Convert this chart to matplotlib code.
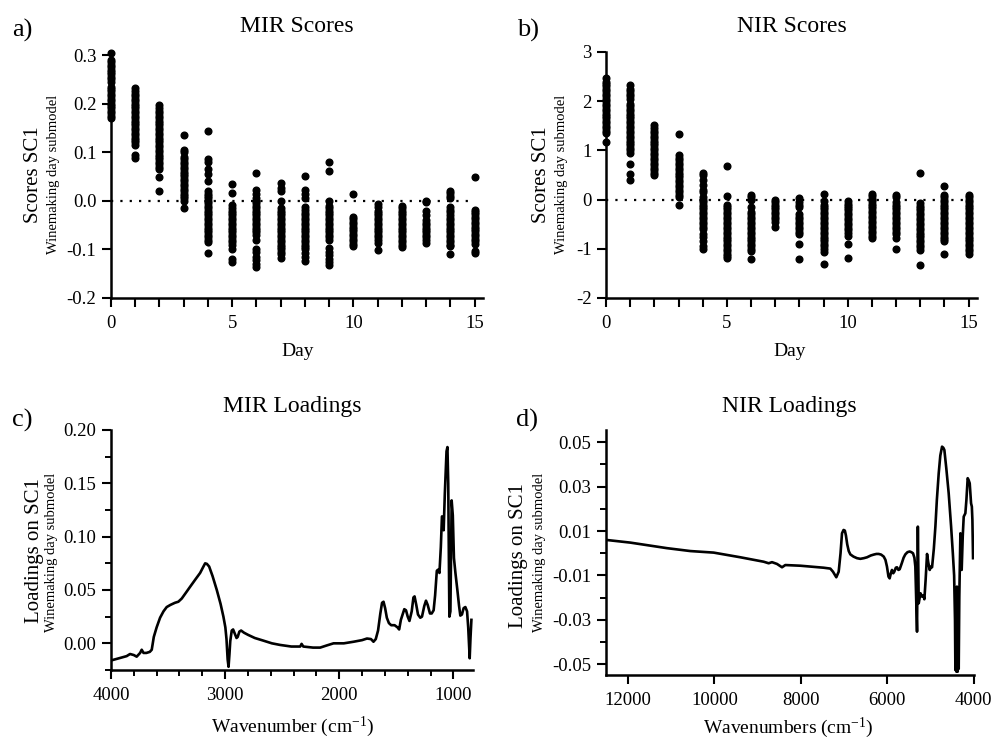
import numpy as np
import matplotlib
matplotlib.use('Agg')
import matplotlib.pyplot as plt
from matplotlib.ticker import MultipleLocator, FormatStrFormatter

# serif font like the paper (Times look-alike)
plt.rcParams['font.family'] = ['Liberation Serif', 'DejaVu Serif']
plt.rcParams['mathtext.fontset'] = 'custom'
plt.rcParams['mathtext.rm'] = 'Liberation Serif'
plt.rcParams['mathtext.it'] = 'Liberation Serif:italic'
plt.rcParams['axes.unicode_minus'] = False

# ---- scores data, one list per winemaking day ----
days = list(range(16))

mir_scores = [
    [0.305, 0.29, 0.285, 0.28, 0.275, 0.27, 0.265, 0.26, 0.255, 0.25, 0.245, 0.235, 0.23,
     0.225, 0.22, 0.215, 0.21, 0.205, 0.2, 0.195, 0.19, 0.185, 0.18, 0.175, 0.17],
    [0.232, 0.225, 0.22, 0.215, 0.21, 0.205, 0.2, 0.195, 0.19, 0.185, 0.18, 0.175, 0.17,
     0.165, 0.16, 0.155, 0.15, 0.145, 0.14, 0.135, 0.13, 0.125, 0.12, 0.115, 0.095, 0.088],
    [0.197, 0.19, 0.185, 0.18, 0.175, 0.17, 0.165, 0.16, 0.155, 0.15, 0.145, 0.14, 0.135,
     0.13, 0.125, 0.12, 0.115, 0.11, 0.105, 0.1, 0.095, 0.09, 0.085, 0.08, 0.075, 0.07,
     0.065, 0.048, 0.02],
    [0.135, 0.105, 0.1, 0.09, 0.085, 0.08, 0.075, 0.07, 0.065, 0.06, 0.055, 0.05, 0.045,
     0.04, 0.035, 0.03, 0.025, 0.02, 0.015, 0.01, 0.005, 0.0, -0.014],
    [0.144, 0.085, 0.08, 0.065, 0.055, 0.04, 0.02, 0.015, 0.01, 0.005, 0.0, -0.005, -0.01,
     -0.015, -0.02, -0.025, -0.03, -0.035, -0.04, -0.045, -0.05, -0.055, -0.06, -0.065,
     -0.07, -0.075, -0.08, -0.085, -0.107],
    [0.035, 0.017, -0.008, -0.015, -0.02, -0.025, -0.03, -0.035, -0.04, -0.045, -0.05,
     -0.055, -0.06, -0.065, -0.07, -0.075, -0.08, -0.085, -0.09, -0.1, -0.12, -0.126],
    [0.058, 0.022, 0.015, 0.005, 0.0, -0.005, -0.01, -0.015, -0.02, -0.025, -0.03, -0.035,
     -0.04, -0.045, -0.05, -0.055, -0.06, -0.065, -0.07, -0.08, -0.1, -0.106, -0.115,
     -0.122, -0.13, -0.137],
    [0.036, 0.027, 0.02, 0.0, -0.015, -0.02, -0.025, -0.03, -0.035, -0.04, -0.045, -0.05,
     -0.055, -0.06, -0.065, -0.07, -0.075, -0.08, -0.085, -0.09, -0.095, -0.1, -0.105,
     -0.11, -0.117],
    [0.051, 0.022, 0.015, 0.005, -0.012, -0.018, -0.025, -0.03, -0.035, -0.04, -0.045,
     -0.05, -0.055, -0.06, -0.065, -0.07, -0.075, -0.08, -0.085, -0.09, -0.095, -0.1,
     -0.107, -0.115, -0.123],
    [0.079, 0.061, 0.0, -0.011, -0.015, -0.02, -0.025, -0.03, -0.035, -0.04, -0.045, -0.05,
     -0.055, -0.06, -0.065, -0.07, -0.075, -0.08, -0.097, -0.105, -0.112, -0.12, -0.126,
     -0.132],
    [0.013, -0.033, -0.038, -0.043, -0.048, -0.053, -0.058, -0.063, -0.068, -0.073, -0.078,
     -0.083, -0.088, -0.094],
    [-0.006, -0.013, -0.02, -0.025, -0.03, -0.035, -0.04, -0.045, -0.05, -0.055, -0.06,
     -0.065, -0.07, -0.075, -0.08, -0.087, -0.101],
    [-0.01, -0.015, -0.02, -0.025, -0.03, -0.035, -0.04, -0.045, -0.05, -0.055, -0.06,
     -0.065, -0.07, -0.075, -0.08, -0.085, -0.09, -0.096],
    [0.0, -0.002, -0.022, -0.03, -0.04, -0.045, -0.05, -0.055, -0.06, -0.065, -0.07, -0.075,
     -0.08, -0.087],
    [0.021, 0.016, 0.01, 0.005, -0.012, -0.018, -0.024, -0.03, -0.035, -0.04, -0.045, -0.05,
     -0.055, -0.06, -0.065, -0.07, -0.075, -0.08, -0.085, -0.09, -0.094, -0.11],
    [0.048, -0.018, -0.023, -0.028, -0.033, -0.038, -0.043, -0.048, -0.053, -0.058, -0.063,
     -0.068, -0.073, -0.078, -0.083, -0.089, -0.104, -0.108],
]

nir_scores = [
    [2.48, 2.4, 2.35, 2.3, 2.25, 2.2, 2.15, 2.1, 2.05, 2.0, 1.95, 1.9, 1.85, 1.8, 1.75, 1.7,
     1.65, 1.6, 1.55, 1.5, 1.45, 1.4, 1.35, 1.18],
    [2.32, 2.25, 2.2, 2.15, 2.1, 2.05, 1.95, 1.9, 1.85, 1.8, 1.75, 1.7, 1.65, 1.6, 1.55, 1.5,
     1.45, 1.4, 1.35, 1.3, 1.25, 1.2, 1.15, 1.1, 1.05, 1.0, 0.95, 0.72, 0.52, 0.4],
    [1.52, 1.45, 1.4, 1.35, 1.3, 1.25, 1.2, 1.15, 1.1, 1.05, 1.0, 0.95, 0.9, 0.85, 0.8, 0.75,
     0.7, 0.65, 0.6, 0.55, 0.5],
    [1.33, 0.9, 0.85, 0.8, 0.75, 0.7, 0.65, 0.6, 0.55, 0.5, 0.45, 0.4, 0.35, 0.3, 0.25, 0.2,
     0.15, 0.1, 0.05, -0.1],
    [0.55, 0.5, 0.4, 0.3, 0.2, 0.15, 0.05, 0.0, -0.05, -0.1, -0.15, -0.2, -0.25, -0.3, -0.35,
     -0.4, -0.45, -0.5, -0.55, -0.6, -0.7, -0.75, -0.85, -0.95, -1.0],
    [0.68, 0.075, -0.1, -0.15, -0.2, -0.25, -0.3, -0.35, -0.4, -0.45, -0.5, -0.55, -0.6, -0.65,
     -0.7, -0.75, -0.8, -0.85, -0.9, -0.95, -1.0, -1.05, -1.1, -1.15, -1.18],
    [0.1, 0.05, 0.0, -0.15, -0.25, -0.3, -0.35, -0.4, -0.45, -0.5, -0.55, -0.6, -0.65, -0.7,
     -0.75, -0.8, -0.85, -0.9, -0.95, -1.0, -1.05, -1.2],
    [0.0, -0.05, -0.1, -0.15, -0.2, -0.25, -0.3, -0.35, -0.4, -0.45, -0.55],
    [0.03, -0.05, -0.1, -0.15, -0.3, -0.35, -0.4, -0.45, -0.5, -0.55, -0.6, -0.65, -0.7,
     -0.9, -1.2],
    [0.12, -0.03, -0.1, -0.15, -0.2, -0.25, -0.3, -0.35, -0.4, -0.45, -0.5, -0.55, -0.6,
     -0.65, -0.7, -0.75, -0.8, -0.85, -0.9, -0.95, -1.0, -1.06, -1.3],
    [-0.02, -0.08, -0.12, -0.18, -0.22, -0.28, -0.32, -0.38, -0.42, -0.48, -0.52, -0.58,
     -0.62, -0.68, -0.74, -0.9, -1.18],
    [0.12, 0.07, 0.02, -0.03, -0.08, -0.13, -0.18, -0.23, -0.28, -0.33, -0.38, -0.43, -0.48,
     -0.53, -0.58, -0.63, -0.68, -0.73, -0.78],
    [0.1, 0.05, -0.05, -0.1, -0.15, -0.2, -0.25, -0.3, -0.35, -0.4, -0.45, -0.5, -0.55, -0.6,
     -0.65, -0.7, -0.78, -1.0],
    [0.54, -0.07, -0.12, -0.17, -0.22, -0.27, -0.32, -0.37, -0.42, -0.47, -0.52, -0.57,
     -0.62, -0.67, -0.72, -0.77, -0.82, -0.87, -0.92, -0.97, -1.02, -1.32],
    [0.28, 0.1, 0.05, 0.0, -0.05, -0.1, -0.15, -0.2, -0.25, -0.3, -0.35, -0.4, -0.45, -0.5,
     -0.55, -0.6, -0.65, -0.7, -0.75, -0.8, -0.85, -1.1],
    [0.1, 0.05, 0.0, -0.05, -0.1, -0.15, -0.2, -0.25, -0.3, -0.35, -0.4, -0.45, -0.5, -0.55,
     -0.6, -0.65, -0.7, -0.75, -0.8, -0.85, -0.9, -0.95, -1.0, -1.05, -1.1],
]

# ---- loadings data ----
mir_wavenumber = [
    3998, 3930, 3863, 3833, 3800, 3775, 3745, 3731, 3715, 3690,
    3660, 3643, 3625, 3600, 3570, 3540, 3512, 3480, 3440, 3410,
    3380, 3340, 3307, 3260, 3219, 3190, 3175, 3160, 3140, 3110,
    3073, 3040, 3015, 2998, 2988, 2978, 2970, 2962, 2955, 2942,
    2930, 2915, 2900, 2890, 2875, 2860, 2835, 2800, 2740, 2664,
    2590, 2518, 2420, 2342, 2330, 2315, 2230, 2167, 2110, 2050,
    1960, 1874, 1800, 1757, 1722, 1700, 1680, 1660, 1640, 1625,
    1612, 1598, 1583, 1565, 1545, 1515, 1490, 1475, 1460, 1445,
    1430, 1415, 1400, 1385, 1365, 1350, 1340, 1325, 1310, 1290,
    1275, 1255, 1240, 1225, 1205, 1190, 1173, 1160, 1145, 1135,
    1122, 1110, 1100, 1093, 1085, 1075, 1060, 1052, 1045, 1035,
    1026, 1015, 1005, 995, 982, 965, 950, 939, 925, 910,
    895, 880, 870, 857, 850, 842]
mir_loading = [
    -0.016, -0.014, -0.012, -0.010, -0.011, -0.0125, -0.009, -0.006, -0.009, -0.009,
    -0.008, -0.006, 0.006, 0.015, 0.024, 0.030, 0.034, 0.036, 0.038, 0.039,
    0.042, 0.048, 0.053, 0.060, 0.066, 0.072, 0.075, 0.0745, 0.072, 0.063,
    0.050, 0.037, 0.025, 0.015, 0.004, -0.015, -0.022, -0.010, 0.002, 0.012,
    0.013, 0.009, 0.005, 0.006, 0.011, 0.012, 0.010, 0.008, 0.005, 0.0025,
    0.0, -0.0015, -0.003, -0.003, -0.0005, -0.003, -0.004, -0.004, -0.002, 0.0,
    0.0, 0.0015, 0.003, 0.0045, 0.004, 0.0015, 0.004, 0.012, 0.028, 0.038,
    0.039, 0.033, 0.024, 0.019, 0.017, 0.017, 0.015, 0.013, 0.022, 0.027,
    0.032, 0.031, 0.025, 0.021, 0.030, 0.043, 0.044, 0.036, 0.027, 0.024,
    0.025, 0.035, 0.040, 0.036, 0.028, 0.028, 0.031, 0.045, 0.068, 0.069,
    0.066, 0.090, 0.119, 0.118, 0.106, 0.140, 0.180, 0.184, 0.150, 0.025,
    0.030, 0.134, 0.120, 0.080, 0.066, 0.050, 0.035, 0.026, 0.027, 0.033,
    0.034, 0.030, 0.015, -0.014, 0.005, 0.022]

nir_wavenumber = [
    12500, 11946, 11097, 10557, 10017, 9400, 8860, 8744, 8667, 8551,
    8435, 8358, 8011, 7471, 7316, 7255, 7178, 7123, 7080, 7046,
    7010, 6980, 6955, 6925, 6890, 6853, 6780, 6700, 6622, 6540,
    6466, 6380, 6313, 6250, 6197, 6140, 6080, 6040, 6005, 5970,
    5943, 5915, 5889, 5860, 5835, 5800, 5773, 5740, 5711, 5680,
    5657, 5620, 5580, 5530, 5480, 5440, 5402, 5370, 5348, 5309,
    5290, 5270, 5230, 5193, 5160, 5139, 5110, 5077, 5050, 5015,
    4985, 4961, 4920, 4884, 4850, 4807, 4770, 4730, 4700, 4676,
    4630, 4576, 4520, 4480, 4450, 4430, 4421, 4410, 4398, 4385,
    4367, 4355, 4344, 4330, 4305, 4275, 4250, 4228, 4190, 4166,
    4136, 4115, 4089, 4058, 4040, 4027, 4012]
nir_loading = [
    0.006, 0.0048, 0.0023, 0.001, 0.0003, -0.0018, -0.0038, -0.0045, -0.004, -0.0048,
    -0.0063, -0.0053, -0.0056, -0.0065, -0.0069, -0.0083, -0.0108, -0.0083, 0.0, 0.009,
    0.0105, 0.0102, 0.008, 0.004, 0.001, -0.0005, -0.0015, -0.0022, -0.0025, -0.0022,
    -0.0018, -0.001, -0.0006, -0.0003, -0.0003, -0.0006, -0.0015, -0.003, -0.006, -0.0105,
    -0.0113, -0.009, -0.0075, -0.009, -0.0083, -0.0065, -0.0063, -0.0075, -0.0072, -0.0055,
    -0.0042, -0.002, -0.0005, 0.0005, 0.0008, 0.0005, 0.0, -0.002, -0.006, -0.0353,
    0.012, -0.0225, -0.018, -0.0195, -0.019, -0.0207, -0.012, -0.0003, -0.004, -0.0075,
    -0.006, -0.0063, 0.002, 0.012, 0.024, 0.036, 0.044, 0.048, 0.0475, 0.0465,
    0.038, 0.027, 0.012, 0.0, -0.01, -0.03, -0.0526, -0.02, -0.0533, -0.015,
    -0.0533, -0.02, -0.052, -0.0195, 0.009, -0.0075, 0.008, 0.0165, 0.018, 0.024,
    0.0338, 0.033, 0.0315, 0.0225, 0.021, 0.015, -0.0022]

W, H = 993, 740
fig = plt.figure(figsize=(W / 100, H / 100), dpi=100)

def box(left, top, right, bottom):
    # pixel box -> figure fraction
    return [left / W, 1 - bottom / H, (right - left) / W, (bottom - top) / H]

ax_a = fig.add_axes(box(111, 55, 483, 298))
ax_b = fig.add_axes(box(606, 52, 977, 298))
ax_c = fig.add_axes(box(111, 430, 473, 670))
ax_d = fig.add_axes(box(606, 430, 974, 675))

for ax in [ax_a, ax_b, ax_c, ax_d]:
    for s in ['top', 'right']:
        ax.spines[s].set_visible(False)
    for s in ['left', 'bottom']:
        ax.spines[s].set_linewidth(1.8)
    ax.tick_params(which='major', direction='out', length=6.5, width=1.5,
                   labelsize=13.5, pad=4, color='black')
    ax.tick_params(which='minor', direction='out', length=4, width=1.4)
    ax.tick_params(axis='x', which='major', pad=6)

# scores panels
for ax, scores, ylim, ystep, fmt in [(ax_a, mir_scores, (-0.2, 0.3), 0.1, '%.1f'),
                                     (ax_b, nir_scores, (-2, 3), 1, '%d')]:
    for d, vals in zip(days, scores):
        ax.plot(np.full(len(vals), d), vals, 'o', color='black', ms=4.8,
                mec='black', clip_on=False, zorder=3)
    ax.hlines(0, days[0], days[-1], colors='black', lw=1.6,
              linestyles=(0, (1, 3.2)), zorder=2)
    ax.set_xlim(0, 15.35)
    ax.set_ylim(*ylim)
    ax.set_xticks(days)
    ax.set_xticklabels([str(d) if d % 5 == 0 else '' for d in days])
    ax.yaxis.set_major_locator(MultipleLocator(ystep))
    ax.yaxis.set_major_formatter(FormatStrFormatter(fmt))

# MIR loadings
ax_c.plot(mir_wavenumber, mir_loading, color='black', lw=1.9)
ax_c.set_xlim(4000, 828)
ax_c.set_ylim(-0.025, 0.2)
ax_c.xaxis.set_major_locator(MultipleLocator(1000))
ax_c.xaxis.set_minor_locator(MultipleLocator(200))
ax_c.yaxis.set_major_locator(MultipleLocator(0.05))
ax_c.yaxis.set_minor_locator(MultipleLocator(0.025))
ax_c.yaxis.set_major_formatter(FormatStrFormatter('%.2f'))

# NIR loadings
ax_d.plot(nir_wavenumber, nir_loading, color='black', lw=1.9)
ax_d.set_xlim(12510, 3990)
ax_d.set_ylim(-0.0548, 0.0555)
ax_d.set_xticks([12000, 10000, 8000, 6000, 4000])
ax_d.set_yticks([0.05, 0.03, 0.01, -0.01, -0.03, -0.05])
ax_d.set_yticks([0.04, 0.02, 0.0, -0.02, -0.04], minor=True)
ax_d.yaxis.set_major_formatter(FormatStrFormatter('%.2f'))

# titles, panel letters, axis labels (placed in pixels like the original)
def label(x, y, s, size, **kw):
    fig.text(x / W, 1 - y / H, s, fontsize=size, **kw)

label(297, 32, 'MIR Scores', 17, ha='center', va='baseline')
label(792, 32, 'NIR Scores', 17, ha='center', va='baseline')
label(292, 412, 'MIR Loadings', 17, ha='center', va='baseline')
label(789, 412, 'NIR Loadings', 17, ha='center', va='baseline')

label(12, 37, 'a)', 19, ha='left', va='baseline')
label(517, 37, 'b)', 19, ha='left', va='baseline')
label(12, 427, 'c)', 19, ha='left', va='baseline')
label(516, 427, 'd)', 19, ha='left', va='baseline')

label(298, 356, 'Day', 14, ha='center', va='baseline')
label(790, 356, 'Day', 14, ha='center', va='baseline')
label(293, 732, 'Wavenumber (cm$^{-1}$)', 14, ha='center', va='baseline')
label(788, 733, 'Wavenumbers (cm$^{-1}$)', 14, ha='center', va='baseline')

sub = 'Winemaking day submodel'
label(33, 175, 'Scores SC1', 15, ha='center', va='center', rotation=90)
label(54, 174, sub, 10.5, ha='center', va='center', rotation=90)
label(542, 175, 'Scores SC1', 15, ha='center', va='center', rotation=90)
label(562, 174, sub, 10.5, ha='center', va='center', rotation=90)
label(34, 551, 'Loadings on SC1', 15, ha='center', va='center', rotation=90)
label(52, 552, sub, 10.5, ha='center', va='center', rotation=90)
label(519, 556, 'Loadings on SC1', 15, ha='center', va='center', rotation=90)
label(539, 552, sub, 10.5, ha='center', va='center', rotation=90)

fig.savefig('out.png', dpi=100)
